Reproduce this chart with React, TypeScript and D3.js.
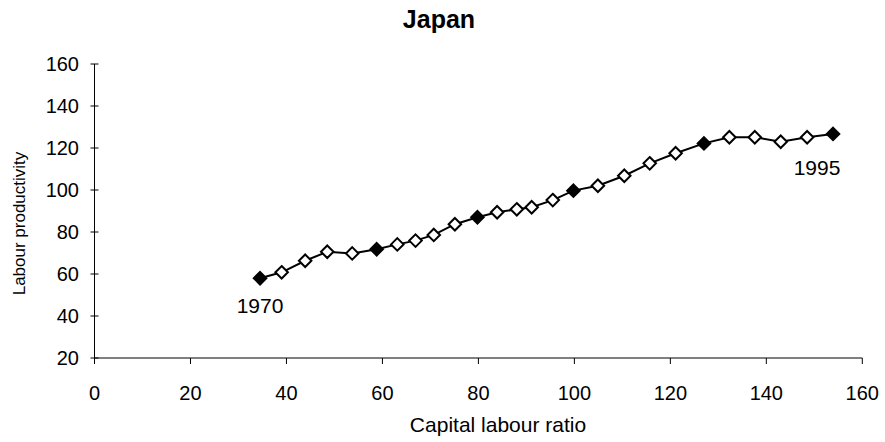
import React from "react";
import * as d3 from "d3";

const years = [1970,1971,1972,1973,1974,1975,1976,1977,1978,1979,1980,1981,1982,1983,1984,1985,1986,1987,1988,1989,1990,1991,1992,1993,1994,1995];
const capitalLabour = [34.5,39.0,43.9,48.5,53.7,58.8,63.1,66.9,70.7,75.1,79.8,83.9,88.0,91.1,95.5,99.8,104.9,110.4,115.7,121.1,127.0,132.3,137.6,143.0,148.5,153.9];
const productivity = [58.0,60.8,66.3,70.6,69.8,71.8,74.1,75.9,78.6,83.7,87.0,89.4,90.8,91.8,95.2,99.7,102.0,106.8,112.7,117.5,122.2,125.1,125.1,123.0,125.1,126.7];
const xTicks = [0,20,40,60,80,100,120,140,160];
const yTicks = [20,40,60,80,100,120,140,160];
const labelled = [1970, 1995];

export default function App() {
  const W = 885, H = 442;
  const x = d3.scaleLinear().domain([0, 160]).range([94.5, 862.3]);
  const y = d3.scaleLinear().domain([20, 160]).range([358, 64]);
  const pts = years.map((yr, i) => ({ yr, cx: capitalLabour[i], py: productivity[i] }));
  const line = d3.line<any>().x(d => x(d.cx)).y(d => y(d.py));
  const sym = d3.symbol().type(d3.symbolDiamond2).size(100);
  const font = "'Liberation Sans', Arial, sans-serif";
  return (
    <svg width={W} height={H} style={{ position: "absolute", left: 0, top: 0, fontFamily: font }}>
      <rect width={W} height={H} fill="#fff" />
      <text x={439} y={28} textAnchor="middle" fontSize={25} fontWeight="bold">Japan</text>
      <line x1={x(0)} x2={x(0)} y1={y(160)} y2={y(20)} stroke="#000" strokeWidth={1} />
      <line x1={x(0)} x2={x(160)} y1={y(20)} y2={y(20)} stroke="#000" strokeWidth={1} />
      {yTicks.map(t => (
        <g key={"y" + t}>
          <line x1={x(0) - 4} x2={x(0) + 4} y1={y(t)} y2={y(t)} stroke="#000" />
          <text x={79} y={y(t)} dy="0.35em" textAnchor="end" fontSize={20}>{t}</text>
        </g>
      ))}
      {xTicks.map(t => (
        <g key={"x" + t}>
          <line x1={x(t)} x2={x(t)} y1={y(20)} y2={y(20) + 6} stroke="#000" />
          <text x={x(t)} y={400} textAnchor="middle" fontSize={20}>{t}</text>
        </g>
      ))}
      <text x={498} y={432} textAnchor="middle" fontSize={21}>Capital labour ratio</text>
      <text transform="translate(25,223.5) rotate(-90)" textAnchor="middle" fontSize={17}>Labour productivity</text>
      <path d={line(pts) || ""} fill="none" stroke="#000" strokeWidth={2} />
      {pts.map(p => {
        const filled = (p.yr - 1970) % 5 === 0;
        return (
          <path key={p.yr} d={sym() || ""} transform={`translate(${x(p.cx)},${y(p.py)})`}
            fill={filled ? "#000" : "#fff"} stroke="#000" strokeWidth={2} />
        );
      })}
      <text x={260} y={313} textAnchor="middle" fontSize={21}>{labelled[0]}</text>
      <text x={817} y={175} textAnchor="middle" fontSize={21}>{labelled[1]}</text>
    </svg>
  );
}
